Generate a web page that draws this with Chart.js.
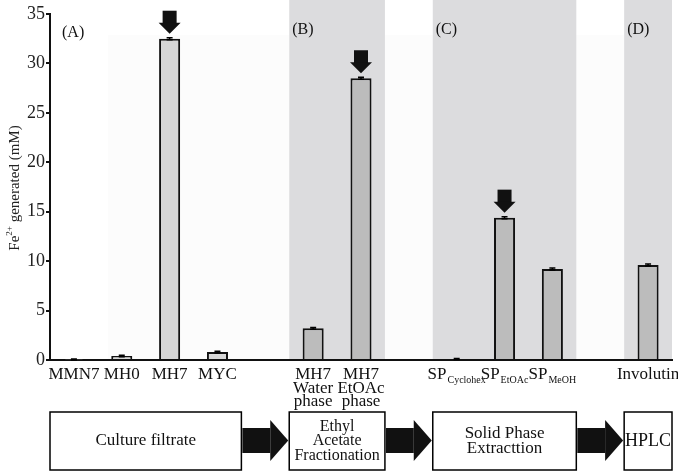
<!DOCTYPE html>
<html>
<head>
<meta charset="utf-8">
<script src="https://cdn.jsdelivr.net/npm/chart.js@4"></script>
<style>
  html, body { margin: 0; padding: 0; background: #fff; }
  #wrap { width: 678px; height: 471px; }
</style>
</head>
<body>
<div id="wrap"><canvas id="fe2Chart" width="678" height="471"></canvas></div>
<script>
// data (empty slots are the gaps between panels)
const categories = ['MMN7', 'MH0', 'MH7', 'MYC', '', 'MH7\nWater\nphase', 'MH7\nEtOAc\nphase', '',
  'SP', 'SP', 'SP', '', 'Involutin'];
const subscripts = ['', '', '', '', '', '', '', '', 'Cyclohex', 'EtOAc', 'MeOH', '', ''];
const fe2Values = [0.05, 0.4, 32.5, 0.8, null, 3.2, 28.5, null, 0.1, 14.4, 9.2, null, 9.6];
const fe2Errors = [0.05, 0.08, 0.1, 0.08, null, 0.1, 0.1, null, 0.05, 0.1, 0.1, null, 0.1];
const yTicks = [0, 5, 10, 15, 20, 25, 30, 35];
const arrowOn = [2, 6, 9];                       // bars marked with a down arrow
const panels = [['(A)', 0], ['(B)', 5], ['(C)', 8], ['(D)', 12]];
const shadedGroups = [[5, 6], [8, 10], [12, 12]];
const flowBoxes = [
  { lines: ['Culture filtrate'], from: 0, to: 3, size: 17 },
  { lines: ['Ethyl', 'Acetate', 'Fractionation'], from: 5, to: 6, size: 16 },
  { lines: ['Solid Phase', 'Extracttion'], from: 8, to: 10, size: 17 },
  { lines: ['HPLC'], from: 12, to: 12, size: 18 }
];

const SERIF = "'Liberation Serif', 'Times New Roman', serif";
const barColors = fe2Values.map((v, i) => i < 4 ? '#d6d6d6' : '#bcbcbc');

const decor = {
  id: 'decor',
  beforeDraw(chart) {
    const { ctx, chartArea, scales: { x } } = chart;
    const half = (x.getPixelForValue(1) - x.getPixelForValue(0)) / 2;
    ctx.save();
    ctx.fillStyle = '#fff';
    ctx.fillRect(0, 0, chart.width, chart.height);
    ctx.fillStyle = '#fcfcfc';
    ctx.fillRect(x.getPixelForValue(1) - 14, chartArea.top + 21, chartArea.right - x.getPixelForValue(1) + 14, chartArea.bottom - chartArea.top - 21);
    ctx.fillStyle = '#dcdcde';
    shadedGroups.forEach(([a, b]) => {
      const x0 = x.getPixelForValue(a) - half;
      const x1 = x.getPixelForValue(b) + half;
      ctx.fillRect(x0, 0, x1 - x0, chartArea.bottom);
    });
    ctx.restore();
  },
  afterDraw(chart) {
    const { ctx, chartArea, scales: { x, y } } = chart;
    const half = (x.getPixelForValue(1) - x.getPixelForValue(0)) / 2;
    ctx.save();

    // error bars
    ctx.strokeStyle = '#000';
    ctx.lineWidth = 1.5;
    fe2Values.forEach((v, i) => {
      if (v === null) return;
      const cx = x.getPixelForValue(i);
      const yHi = y.getPixelForValue(v + fe2Errors[i]);
      const yLo = y.getPixelForValue(Math.max(0, v - fe2Errors[i]));
      ctx.beginPath();
      ctx.moveTo(cx - 3, yHi); ctx.lineTo(cx + 3, yHi);
      ctx.moveTo(cx - 3, yLo); ctx.lineTo(cx + 3, yLo);
      ctx.moveTo(cx, yHi); ctx.lineTo(cx, yLo);
      ctx.stroke();
    });

    // down arrows over the best fractions
    ctx.fillStyle = '#111';
    arrowOn.forEach(i => {
      const cx = x.getPixelForValue(i);
      const tip = y.getPixelForValue(fe2Values[i]) - 5;
      ctx.fillRect(cx - 7, tip - 23, 14, 13);
      ctx.beginPath();
      ctx.moveTo(cx - 11, tip - 11);
      ctx.lineTo(cx + 11, tip - 11);
      ctx.lineTo(cx, tip);
      ctx.closePath();
      ctx.fill();
    });

    // panel letters
    ctx.fillStyle = '#111';
    ctx.font = '16px ' + SERIF;
    ctx.textBaseline = 'middle';
    ctx.textAlign = 'left';
    panels.forEach(([t, i], k) => {
      const px = x.getPixelForValue(i) - half + (k === 0 ? 12 : 3);
      ctx.fillText(t, px, k === 0 ? 33 : 30);
    });

    // category labels
    ctx.textAlign = 'center';
    ctx.textBaseline = 'alphabetic';
    categories.forEach((lab, i) => {
      if (!lab) return;
      const cx = x.getPixelForValue(i);
      if (subscripts[i]) {
        ctx.font = '17px ' + SERIF;
        const w1 = ctx.measureText(lab).width;
        ctx.font = '10px ' + SERIF;
        const w2 = ctx.measureText(subscripts[i]).width;
        const sx = cx - (w1 + w2 + 1) / 2;
        ctx.textAlign = 'left';
        ctx.font = '17px ' + SERIF;
        ctx.fillText(lab, sx, 379);
        ctx.font = '10px ' + SERIF;
        ctx.fillText(subscripts[i], sx + w1 + 1, 383);
        ctx.textAlign = 'center';
      } else {
        ctx.font = '17px ' + SERIF;
        lab.split('\n').forEach((line, k) => ctx.fillText(line, cx, 379 + k * 13.5));
      }
    });

    // y axis title with superscript
    ctx.save();
    ctx.translate(15, 188);
    ctx.rotate(-Math.PI / 2);
    ctx.fillStyle = '#222';
    const t1 = 'Fe', t2 = '2+', t3 = ' generated (mM)';
    ctx.font = '15px ' + SERIF;
    const a = ctx.measureText(t1).width, c = ctx.measureText(t3).width;
    ctx.font = '9px ' + SERIF;
    const b = ctx.measureText(t2).width;
    let sx = -(a + b + c) / 2;
    ctx.textAlign = 'left';
    ctx.textBaseline = 'middle';
    ctx.font = '15px ' + SERIF;
    ctx.fillText(t1, sx, 0);
    ctx.font = '9px ' + SERIF;
    ctx.fillText(t2, sx + a, -5);
    ctx.font = '15px ' + SERIF;
    ctx.fillText(t3, sx + a + b, 0);
    ctx.restore();

    // workflow boxes and block arrows
    const top = 412, bot = 470;
    ctx.lineWidth = 1.5;
    ctx.strokeStyle = '#000';
    flowBoxes.forEach((bx, k) => {
      const x0 = x.getPixelForValue(bx.from) - half;
      const x1 = x.getPixelForValue(bx.to) + half;
      ctx.fillStyle = '#fff';
      ctx.fillRect(x0, top, x1 - x0, bot - top);
      ctx.strokeRect(x0, top, x1 - x0, bot - top);
      ctx.fillStyle = '#111';
      ctx.font = bx.size + 'px ' + SERIF;
      ctx.textAlign = 'center';
      ctx.textBaseline = 'middle';
      const lh = 14.5;
      const y0 = 441 - (bx.lines.length - 1) * lh / 2;
      bx.lines.forEach((ln, j) => ctx.fillText(ln, (x0 + x1) / 2, y0 + j * lh));
      const next = flowBoxes[k + 1];
      if (next) {
        const a0 = x1 + 1;
        const a1 = x.getPixelForValue(next.from) - half - 1;
        const headW = 18;
        ctx.fillStyle = '#111';
        ctx.fillRect(a0, 428, a1 - a0 - headW, 25);
        ctx.beginPath();
        ctx.moveTo(a1 - headW, 420);
        ctx.lineTo(a1, 440.5);
        ctx.lineTo(a1 - headW, 461);
        ctx.closePath();
        ctx.fill();
      }
    });
    ctx.restore();
  }
};

new Chart(document.getElementById('fe2Chart').getContext('2d'), {
  type: 'bar',
  data: {
    labels: categories,
    datasets: [{
      label: 'Fe2+ generated (mM)',
      data: fe2Values,
      backgroundColor: barColors,
      borderColor: '#111',
      borderWidth: 2,
      categoryPercentage: 1,
      barPercentage: 0.44
    }]
  },
  options: {
    responsive: false,
    animation: false,
    layout: { padding: { top: 14, right: 6, left: 0, bottom: 0 } },
    plugins: { legend: { display: false }, tooltip: { enabled: false } },
    scales: {
      x: {
        grid: { display: false },
        border: { color: '#111', width: 2 },
        ticks: { display: false },
        afterFit(scale) { scale.height = 111; }
      },
      y: {
        min: 0,
        max: 35,
        afterBuildTicks(scale) { scale.ticks = yTicks.map(v => ({ value: v })); },
        grid: { display: true, drawOnChartArea: false, drawTicks: true, tickLength: 4, color: '#111', lineWidth: 2 },
        border: { color: '#111', width: 2 },
        ticks: { font: { family: SERIF, size: 18 }, color: '#222', padding: 1 },
        afterFit(scale) { scale.width = 50; }
      }
    }
  },
  plugins: [decor]
});
</script>
</body>
</html>
